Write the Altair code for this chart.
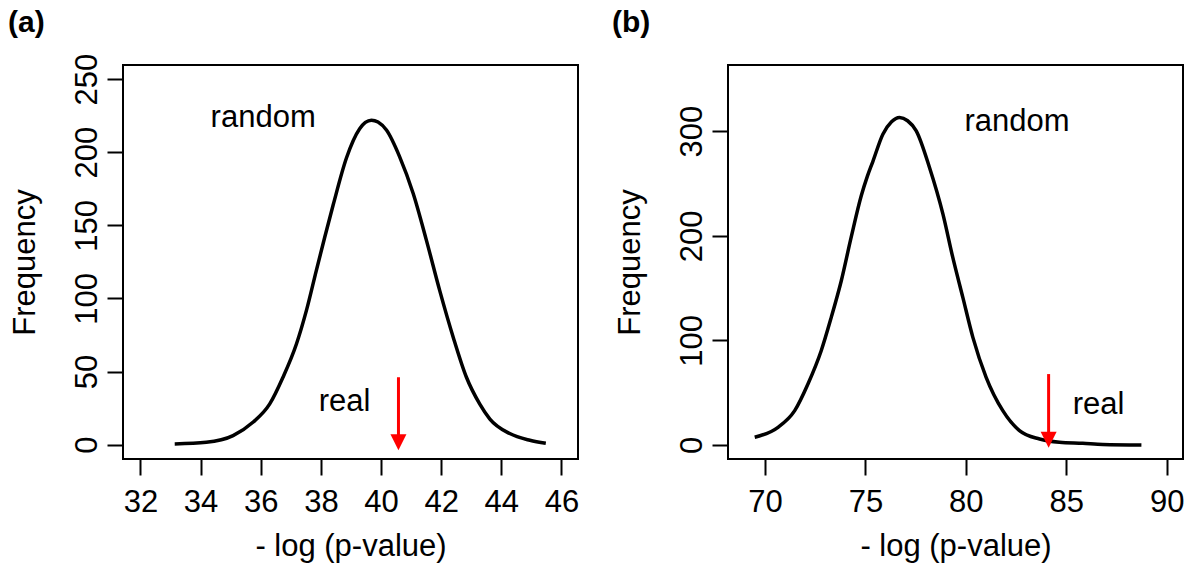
import altair as alt
import pandas as pd

FONT = "Liberation Sans"

# ---------- panel (a) ----------
a_x = [33.14, 34.19, 35.08, 35.74, 36.30, 36.74, 37.19, 37.52, 37.85, 38.13, 38.41,
       38.85, 39.29, 39.48, 39.68, 39.90, 40.18, 40.62, 41.07, 41.51, 41.95, 42.40,
       42.84, 43.28, 43.62, 44.28, 44.95, 45.48]
a_y = [0.5, 1.6, 6.2, 15.3, 27.9, 46.1, 69.0, 91.8, 119.2, 142.0, 164.0,
       196.0, 216.0, 220.3, 221.9, 220.6, 215.1, 196.8, 171.7, 139.7, 105.5, 73.5,
       46.1, 27.9, 17.5, 7.6, 3.0, 0.9]
a_xdom = [31.42, 46.55]
a_ydom = [-9.8, 259.6]
a_xticks = [32, 34, 36, 38, 40, 42, 44, 46]
a_yticks = [0, 50, 100, 150, 200, 250]
a_arrow = {"x": [40.58], "top": [46.1], "head": [1.6]}
a_labels = ["random", "real"]
a_lab_x = [36.08, 38.79]
a_lab_y = [217.3, 23.3]

# ---------- panel (b) ----------
b_x = [69.49, 70.65, 71.48, 72.14, 72.80, 73.30, 73.80, 74.29, 74.79, 75.10, 75.37,
       75.87, 76.30, 76.70, 77.10, 77.53, 78.19, 78.86, 79.35, 79.85, 80.35, 81.01,
       81.84, 82.67, 83.67, 84.66, 85.82, 86.82, 88.74]
b_y = [7.4, 16.9, 32.8, 58.3, 90.1, 122.0, 157.0, 198.4, 238.0, 257.0, 271.0,
       297.1, 309.0, 313.1, 310.0, 300.3, 265.3, 220.7, 179.3, 141.1, 102.9, 64.7,
       32.8, 13.7, 5.7, 2.6, 1.6, 0.5, 0.0]
b_xdom = [68.16, 90.81]
b_ydom = [-13.4, 363.3]
b_xticks = [70, 75, 80, 85, 90]
b_yticks = [0, 100, 200, 300]
b_arrow = {"x": [84.12], "top": [67.8], "head": [5.0]}
b_labels = ["random", "real"]
b_lab_x = [82.55, 86.61]
b_lab_y = [300.5, 29.6]


def panel(cx, cy, xdom, ydom, xticks, yticks, arrow, labels, lx, ly, tag, tag_dx):
    xs = alt.Scale(domain=xdom, nice=False, zero=False)
    ys = alt.Scale(domain=ydom, nice=False, zero=False)
    xaxis = alt.Axis(values=xticks, title="- log (p-value)", format="d",
                     labelPadding=12, titlePadding=14)
    yaxis = alt.Axis(values=yticks, title="Frequency", format="d",
                     labelAngle=270, labelAlign="center", labelBaseline="alphabetic",
                     labelPadding=11, titlePadding=30)
    X = lambda f: alt.X(f, type="quantitative", scale=xs, axis=xaxis)
    Y = lambda f: alt.Y(f, type="quantitative", scale=ys, axis=yaxis)

    curve = pd.DataFrame({"x": cx, "y": cy})
    line = alt.Chart(curve).mark_line(
        color="black", strokeWidth=3.5, interpolate="monotone"
    ).encode(x=X("x"), y=Y("y"))

    adf = pd.DataFrame(arrow)
    shaft = alt.Chart(adf).mark_rule(color="red", strokeWidth=3).encode(
        x=X("x"), y=Y("top"), y2="head:Q")
    head = alt.Chart(adf).mark_point(
        shape="M-1,-1L1,-1L0,1Z", filled=True, color="red", size=256, opacity=1,
        strokeWidth=0
    ).encode(x=X("x"), y=Y("head"))

    tdf = pd.DataFrame({"x": lx, "y": ly, "t": labels})
    text = alt.Chart(tdf).mark_text(
        font=FONT, fontSize=31, align="center", baseline="alphabetic", color="black"
    ).encode(x=X("x"), y=Y("y"), text="t:N")

    tag_mark = alt.Chart(pd.DataFrame({"t": [tag]})).mark_text(
        font=FONT, fontSize=30, fontWeight="bold", align="left",
        baseline="alphabetic", color="black"
    ).encode(x=alt.value(tag_dx), y=alt.value(-33), text="t:N")

    return alt.layer(line, shaft, head, text, tag_mark).properties(
        width=455, height=394)


pa = panel(a_x, a_y, a_xdom, a_ydom, a_xticks, a_yticks, a_arrow,
           a_labels, a_lab_x, a_lab_y, "(a)", -115)
pb = panel(b_x, b_y, b_xdom, b_ydom, b_xticks, b_yticks, b_arrow,
           b_labels, b_lab_x, b_lab_y, "(b)", -116)

chart = alt.hconcat(pa, pb, spacing=31).properties(
    padding={"left": 7, "top": 7, "right": 5, "bottom": 5},
    background="white",
).configure_view(
    stroke="black", strokeWidth=2
).configure_axis(
    grid=False, domain=False,
    tickColor="black", tickWidth=2, tickSize=16,
    labelFont=FONT, labelFontSize=31, labelColor="black",
    titleFont=FONT, titleFontSize=31, titleColor="black", titleFontWeight="normal",
)

chart.save("out.html", embed_options={"renderer": "svg", "actions": False})
